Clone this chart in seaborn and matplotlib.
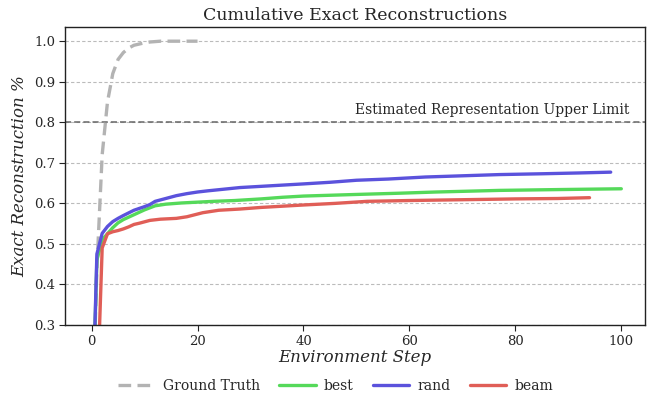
import matplotlib
matplotlib.use("Agg")
import matplotlib.pyplot as plt
import seaborn as sns
import pandas as pd

# Cumulative exact-reconstruction rate per environment step
gt_steps = list(range(0, 21))
gt_values = [0.0, 0.44, 0.72, 0.85, 0.92, 0.955, 0.972, 0.983, 0.99, 0.993,
             0.996, 0.998, 0.999, 1.0, 1.0, 1.0, 1.0, 1.0, 1.0, 1.0, 1.0]

best_steps = [0, 1, 2, 3, 4, 5, 6, 8, 10, 12, 14, 17, 20, 23, 27, 32, 36, 40,
              45, 50, 58, 65, 77, 88, 100]
best_values = [0.0, 0.46, 0.51, 0.525, 0.54, 0.552, 0.56, 0.572, 0.584, 0.594,
               0.598, 0.601, 0.603, 0.605, 0.607, 0.611, 0.615, 0.618, 0.62,
               0.622, 0.625, 0.628, 0.632, 0.634, 0.636]

rand_steps = [0, 1, 2, 3, 4, 5, 6, 8, 10, 11, 12, 14, 16, 18, 20, 22, 25, 28,
              32, 36, 40, 45, 50, 56, 63, 70, 77, 85, 92, 98]
rand_values = [0.0, 0.475, 0.526, 0.543, 0.555, 0.563, 0.57, 0.583, 0.592,
               0.597, 0.605, 0.612, 0.619, 0.624, 0.628, 0.631, 0.635, 0.639,
               0.642, 0.645, 0.648, 0.652, 0.657, 0.66, 0.665, 0.668, 0.671,
               0.673, 0.675, 0.677]

beam_steps = [0, 1, 2, 3, 4, 5, 6, 7, 8, 9, 11, 13, 16, 18, 21, 24, 28, 32, 36,
              40, 46, 52, 60, 70, 80, 88, 94]
beam_values = [0.0, 0.1, 0.49, 0.525, 0.53, 0.533, 0.537, 0.542, 0.548, 0.551,
               0.558, 0.561, 0.563, 0.567, 0.577, 0.583, 0.586, 0.59, 0.593,
               0.596, 0.6, 0.605, 0.607, 0.609, 0.611, 0.612, 0.614]

upper_limit = 0.8
y_ticks = [0.3, 0.4, 0.5, 0.6, 0.7, 0.8, 0.9, 1.0]
x_ticks = [0, 20, 40, 60, 80, 100]

sns.set_theme(style="white")
plt.rcParams["font.family"] = ["DejaVu Serif"]

fig = plt.figure(figsize=(6.51, 4.0), dpi=100)
ax = fig.add_axes([0.1, 0.1875, 0.891, 0.745])

series = [
    ("Ground Truth", gt_steps, gt_values, "#b3b3b3", (3.8, 1.9)),
    ("best", best_steps, best_values, "#55d95a", None),
    ("rand", rand_steps, rand_values, "#5b52dc", None),
    ("beam", beam_steps, beam_values, "#e05e57", None),
]

for name, xs, ys, color, dash in series:
    df = pd.DataFrame({"step": xs, "value": ys})
    sns.lineplot(data=df, x="step", y="value", ax=ax, lw=2.4, color=color,
                 label=name)
    if dash is not None:
        ax.lines[-1].set_dashes(dash)

ax.axhline(upper_limit, color="#666666", lw=1.1, ls=(0, (4, 2)), zorder=1)
ax.text(101.5, upper_limit + 0.012, "Estimated Representation Upper Limit",
        ha="right", va="bottom", fontsize=10)

ax.set_ylim(0.3, 1.035)
ax.set_xlim(-5, 104.5)
ax.set_yticks(y_ticks)
ax.set_xticks(x_ticks)
ax.yaxis.grid(True, ls=(0, (3, 2)), color="#bbbbbb", lw=0.8)
ax.xaxis.grid(False)
ax.set_axisbelow(True)
for s in ax.spines.values():
    s.set_color("#222222")
    s.set_linewidth(1.0)
ax.tick_params(axis="both", which="both", length=4, width=0.8, color="#222222",
               labelsize=9.5, direction="out", left=True, bottom=True, pad=3)

ax.set_title("Cumulative Exact Reconstructions", fontsize=12.5, pad=5)
ax.set_xlabel("Environment Step", fontsize=12, style="italic", labelpad=1)
ax.set_ylabel("Exact Reconstruction %", fontsize=12, style="italic",
              labelpad=4)

handles, labels = ax.get_legend_handles_labels()
ax.get_legend().remove()
fig.legend(handles, labels, loc="upper center", bbox_to_anchor=(0.516, 0.052),
           ncol=4, frameon=False, fontsize=10, handlelength=2.6,
           columnspacing=1.4, handletextpad=0.6, borderaxespad=0,
           borderpad=0)

fig.savefig("out.png", dpi=100)
